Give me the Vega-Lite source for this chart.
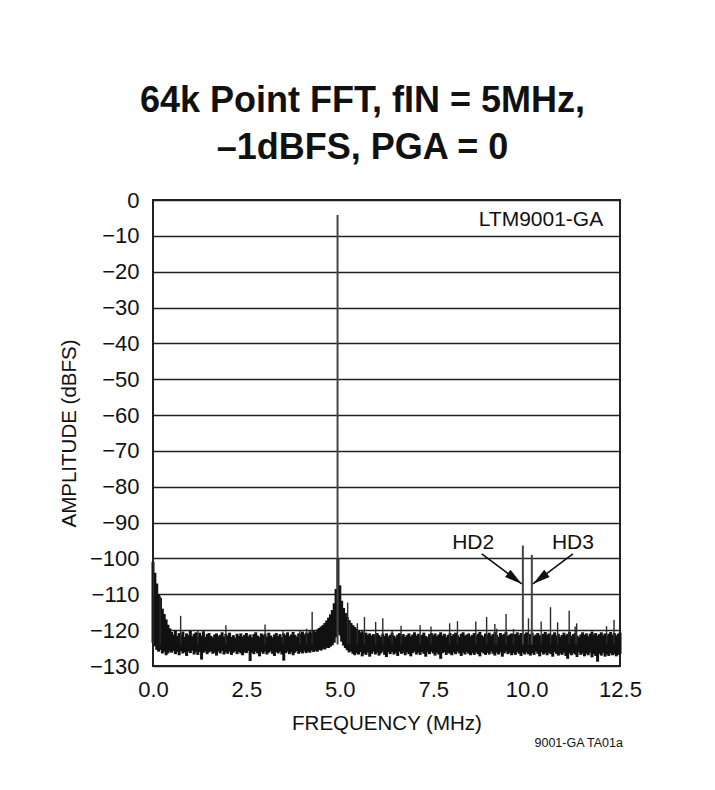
{
  "$schema": "https://vega.github.io/schema/vega-lite/v6.json",
  "width": 467,
  "height": 466,
  "autosize": {"type": "none"},
  "padding": {"left": 153, "top": 200, "right": 95, "bottom": 124},
  "background": "white",
  "config": {
    "view": {"stroke": "#222", "strokeWidth": 2},
    "font": "Liberation Sans, Arial, sans-serif"
  },
  "title": {
    "text": ["64k Point FFT, fIN = 5MHz,", "–1dBFS, PGA = 0"],
    "font": "Liberation Sans, Arial, sans-serif",
    "fontSize": 36,
    "fontWeight": "bold",
    "lineHeight": 47,
    "anchor": "middle",
    "dx": -24,
    "offset": 22,
    "color": "#111"
  },
  "datasets": {
    "band": [
      {"f":0,"hi":-101,"lo":-123.5},{"f":0.05,"hi":-104,"lo":-124.5},{"f":0.1,"hi":-107,"lo":-125.5},{"f":0.15,"hi":-110,"lo":-126},{"f":0.2,"hi":-111,"lo":-125.5},{"f":0.25,"hi":-114,"lo":-126.5},{"f":0.3,"hi":-115.5,"lo":-126},{"f":0.35,"hi":-117,"lo":-127},{"f":0.4,"hi":-118.5,"lo":-126.5},{"f":0.45,"hi":-119.5,"lo":-126},
      {"f":0.5,"hi":-120.5,"lo":-126.3},{"f":0.55,"hi":-121.2,"lo":-125.8},{"f":0.6,"hi":-120.1,"lo":-126.7},{"f":0.65,"hi":-121.6,"lo":-126.1},{"f":0.7,"hi":-120.8,"lo":-127},{"f":0.75,"hi":-121.3,"lo":-125.9},{"f":0.8,"hi":-120.4,"lo":-126.5},{"f":0.85,"hi":-121.9,"lo":-126.2},{"f":0.9,"hi":-120.9,"lo":-127.2},{"f":0.95,"hi":-121.4,"lo":-126},
      {"f":1,"hi":-120.2,"lo":-126.4},{"f":1.05,"hi":-121.7,"lo":-125.7},{"f":1.1,"hi":-121,"lo":-126.8},{"f":1.15,"hi":-120.6,"lo":-126.2},{"f":1.2,"hi":-121.8,"lo":-126.9},{"f":1.25,"hi":-120.7,"lo":-126.1},{"f":1.3,"hi":-121.5,"lo":-128.2},{"f":1.35,"hi":-120.3,"lo":-126.3},{"f":1.4,"hi":-121.9,"lo":-126},{"f":1.45,"hi":-121.1,"lo":-126.7},
      {"f":1.5,"hi":-120.8,"lo":-126.2},{"f":1.55,"hi":-121.6,"lo":-125.9},{"f":1.6,"hi":-122,"lo":-126.6},{"f":1.65,"hi":-121.2,"lo":-126.3},{"f":1.7,"hi":-120.9,"lo":-127.1},{"f":1.75,"hi":-121.7,"lo":-126},{"f":1.8,"hi":-121.3,"lo":-126.5},{"f":1.85,"hi":-120.6,"lo":-125.8},{"f":1.9,"hi":-121.8,"lo":-126.8},{"f":1.95,"hi":-121,"lo":-126.2},
      {"f":2,"hi":-121.5,"lo":-126.6},{"f":2.05,"hi":-120.7,"lo":-126},{"f":2.1,"hi":-121.9,"lo":-126.9},{"f":2.15,"hi":-121.4,"lo":-126.3},{"f":2.2,"hi":-122.1,"lo":-125.9},{"f":2.25,"hi":-121,"lo":-126.7},{"f":2.3,"hi":-121.6,"lo":-126.1},{"f":2.35,"hi":-120.9,"lo":-126.5},{"f":2.4,"hi":-121.8,"lo":-127},{"f":2.45,"hi":-121.3,"lo":-126.2},
      {"f":2.5,"hi":-120.8,"lo":-126.4},{"f":2.55,"hi":-121.7,"lo":-125.8},{"f":2.6,"hi":-121.2,"lo":-128.6},{"f":2.65,"hi":-122,"lo":-126.3},{"f":2.7,"hi":-121.1,"lo":-126.7},{"f":2.75,"hi":-120.6,"lo":-126},{"f":2.8,"hi":-121.5,"lo":-126.5},{"f":2.85,"hi":-121.9,"lo":-127.3},{"f":2.9,"hi":-120.9,"lo":-126.1},{"f":2.95,"hi":-121.4,"lo":-126.6},
      {"f":3,"hi":-121,"lo":-126},{"f":3.05,"hi":-121.8,"lo":-126.8},{"f":3.1,"hi":-120.7,"lo":-126.3},{"f":3.15,"hi":-121.5,"lo":-125.9},{"f":3.2,"hi":-122,"lo":-126.6},{"f":3.25,"hi":-121.2,"lo":-127.2},{"f":3.3,"hi":-120.8,"lo":-126.1},{"f":3.35,"hi":-121.6,"lo":-126.5},{"f":3.4,"hi":-121.1,"lo":-126},{"f":3.45,"hi":-121.9,"lo":-126.8},
      {"f":3.5,"hi":-120.9,"lo":-128.5},{"f":3.55,"hi":-121.4,"lo":-126.4},{"f":3.6,"hi":-120.6,"lo":-126},{"f":3.65,"hi":-121.7,"lo":-126.7},{"f":3.7,"hi":-121.2,"lo":-126.2},{"f":3.75,"hi":-120.5,"lo":-127},{"f":3.8,"hi":-121.3,"lo":-126.3},{"f":3.85,"hi":-121.8,"lo":-125.8},{"f":3.9,"hi":-120.9,"lo":-126.6},{"f":3.95,"hi":-121,"lo":-126.1},
      {"f":4,"hi":-120.4,"lo":-126.5},{"f":4.05,"hi":-121.2,"lo":-125.9},{"f":4.1,"hi":-120.7,"lo":-126.4},{"f":4.15,"hi":-120.9,"lo":-126},{"f":4.2,"hi":-120.3,"lo":-126.3},{"f":4.25,"hi":-120.8,"lo":-125.7},{"f":4.3,"hi":-120.1,"lo":-126.1},{"f":4.35,"hi":-120.5,"lo":-125.8},{"f":4.4,"hi":-119.8,"lo":-126},{"f":4.45,"hi":-119.4,"lo":-125.5},
      {"f":4.5,"hi":-119,"lo":-125.7},{"f":4.55,"hi":-118.6,"lo":-125.2},{"f":4.6,"hi":-118,"lo":-125.4},{"f":4.65,"hi":-117.3,"lo":-124.9},{"f":4.7,"hi":-116.5,"lo":-125},{"f":4.75,"hi":-115.6,"lo":-124.6},{"f":4.8,"hi":-114.4,"lo":-124.2},{"f":4.85,"hi":-112.5,"lo":-123.5},{"f":4.9,"hi":-108.5,"lo":-122},{"f":4.95,"hi":-100,"lo":-120.5},
      {"f":5,"hi":-107.5,"lo":-121.5},{"f":5.05,"hi":-111.8,"lo":-123.2},{"f":5.1,"hi":-113.8,"lo":-124.3},{"f":5.15,"hi":-115.2,"lo":-125},{"f":5.2,"hi":-116.3,"lo":-125.6},{"f":5.25,"hi":-117.2,"lo":-126.2},{"f":5.3,"hi":-118,"lo":-125.9},{"f":5.35,"hi":-118.6,"lo":-126.6},{"f":5.4,"hi":-119.1,"lo":-127},{"f":5.45,"hi":-119.6,"lo":-126.4},
      {"f":5.5,"hi":-120,"lo":-126.8},{"f":5.55,"hi":-120.6,"lo":-126.1},{"f":5.6,"hi":-120.3,"lo":-127.3},{"f":5.65,"hi":-121,"lo":-126.5},{"f":5.7,"hi":-120.7,"lo":-126.9},{"f":5.75,"hi":-121.3,"lo":-126.2},{"f":5.8,"hi":-120.9,"lo":-127.4},{"f":5.85,"hi":-121.5,"lo":-126.6},{"f":5.9,"hi":-121.1,"lo":-126},{"f":5.95,"hi":-121.7,"lo":-126.8},
      {"f":6,"hi":-120.8,"lo":-126.3},{"f":6.05,"hi":-121.4,"lo":-127.1},{"f":6.1,"hi":-121.9,"lo":-126.5},{"f":6.15,"hi":-121,"lo":-126},{"f":6.2,"hi":-121.6,"lo":-126.9},{"f":6.25,"hi":-120.9,"lo":-127.5},{"f":6.3,"hi":-121.8,"lo":-126.2},{"f":6.35,"hi":-121.3,"lo":-126.7},{"f":6.4,"hi":-120.7,"lo":-126.1},{"f":6.45,"hi":-121.5,"lo":-126.8},
      {"f":6.5,"hi":-122,"lo":-126.4},{"f":6.55,"hi":-121.2,"lo":-127.2},{"f":6.6,"hi":-120.8,"lo":-126},{"f":6.65,"hi":-121.6,"lo":-126.6},{"f":6.7,"hi":-121.1,"lo":-126.3},{"f":6.75,"hi":-121.9,"lo":-127},{"f":6.8,"hi":-121.4,"lo":-126.2},{"f":6.85,"hi":-120.9,"lo":-126.7},{"f":6.9,"hi":-121.7,"lo":-127.3},{"f":6.95,"hi":-121.2,"lo":-126.4},
      {"f":7,"hi":-120.6,"lo":-126},{"f":7.05,"hi":-121.5,"lo":-126.8},{"f":7.1,"hi":-121,"lo":-126.3},{"f":7.15,"hi":-121.8,"lo":-126.9},{"f":7.2,"hi":-121.3,"lo":-126.1},{"f":7.25,"hi":-120.7,"lo":-126.6},{"f":7.3,"hi":-121.6,"lo":-127.4},{"f":7.35,"hi":-122,"lo":-126.2},{"f":7.4,"hi":-121.1,"lo":-126.7},{"f":7.45,"hi":-120.8,"lo":-126},
      {"f":7.5,"hi":-121.4,"lo":-126.5},{"f":7.55,"hi":-120.9,"lo":-127.1},{"f":7.6,"hi":-121.7,"lo":-126.3},{"f":7.65,"hi":-121.2,"lo":-126.8},{"f":7.7,"hi":-120.6,"lo":-128},{"f":7.75,"hi":-121.5,"lo":-126.4},{"f":7.8,"hi":-121,"lo":-126.1},{"f":7.85,"hi":-121.9,"lo":-126.9},{"f":7.9,"hi":-121.3,"lo":-126.3},{"f":7.95,"hi":-120.8,"lo":-126.6},
      {"f":8,"hi":-121.6,"lo":-127},{"f":8.05,"hi":-121.1,"lo":-126.2},{"f":8.1,"hi":-120.7,"lo":-126.7},{"f":8.15,"hi":-121.4,"lo":-126},{"f":8.2,"hi":-121.9,"lo":-126.5},{"f":8.25,"hi":-121,"lo":-127.2},{"f":8.3,"hi":-120.6,"lo":-126.3},{"f":8.35,"hi":-121.5,"lo":-126.8},{"f":8.4,"hi":-121.2,"lo":-126.1},{"f":8.45,"hi":-120.9,"lo":-126.6},
      {"f":8.5,"hi":-121.7,"lo":-127},{"f":8.55,"hi":-121.3,"lo":-126.4},{"f":8.6,"hi":-120.8,"lo":-126.9},{"f":8.65,"hi":-121.6,"lo":-126.2},{"f":8.7,"hi":-121,"lo":-126.7},{"f":8.75,"hi":-120.5,"lo":-127.3},{"f":8.8,"hi":-121.4,"lo":-126.1},{"f":8.85,"hi":-121.8,"lo":-126.5},{"f":8.9,"hi":-120.9,"lo":-126.9},{"f":8.95,"hi":-121.2,"lo":-126.3},
      {"f":9,"hi":-120.7,"lo":-126.8},{"f":9.05,"hi":-121.5,"lo":-126},{"f":9.1,"hi":-121.1,"lo":-126.6},{"f":9.15,"hi":-120.6,"lo":-127.1},{"f":9.2,"hi":-121.3,"lo":-126.3},{"f":9.25,"hi":-121.9,"lo":-126.8},{"f":9.3,"hi":-120.8,"lo":-126.2},{"f":9.35,"hi":-121.4,"lo":-127.4},{"f":9.4,"hi":-121,"lo":-126.5},{"f":9.45,"hi":-120.5,"lo":-126},
      {"f":9.5,"hi":-121.6,"lo":-126.7},{"f":9.55,"hi":-121.2,"lo":-126.3},{"f":9.6,"hi":-120.9,"lo":-127},{"f":9.65,"hi":-121.7,"lo":-126.4},{"f":9.7,"hi":-121.1,"lo":-126.9},{"f":9.75,"hi":-120.6,"lo":-126.1},{"f":9.8,"hi":-121.4,"lo":-126.6},{"f":9.85,"hi":-120.8,"lo":-127.2},{"f":9.9,"hi":-121.3,"lo":-126.3},{"f":9.95,"hi":-121,"lo":-126.8},
      {"f":10,"hi":-120.6,"lo":-126.2},{"f":10.05,"hi":-121.5,"lo":-126.7},{"f":10.1,"hi":-121.1,"lo":-127.1},{"f":10.15,"hi":-120.7,"lo":-126.4},{"f":10.2,"hi":-121.6,"lo":-126.9},{"f":10.25,"hi":-121.2,"lo":-126},{"f":10.3,"hi":-120.8,"lo":-126.6},{"f":10.35,"hi":-121.4,"lo":-127.3},{"f":10.4,"hi":-121.9,"lo":-126.2},{"f":10.45,"hi":-121,"lo":-126.8},
      {"f":10.5,"hi":-120.5,"lo":-126.4},{"f":10.55,"hi":-121.3,"lo":-127},{"f":10.6,"hi":-120.9,"lo":-126.3},{"f":10.65,"hi":-121.7,"lo":-126.7},{"f":10.7,"hi":-121.2,"lo":-127.4},{"f":10.75,"hi":-120.6,"lo":-126.1},{"f":10.8,"hi":-121.5,"lo":-126.6},{"f":10.85,"hi":-121,"lo":-127.1},{"f":10.9,"hi":-121.8,"lo":-126.5},{"f":10.95,"hi":-121.3,"lo":-126.9},
      {"f":11,"hi":-120.7,"lo":-126.3},{"f":11.05,"hi":-121.4,"lo":-127.2},{"f":11.1,"hi":-121,"lo":-128},{"f":11.15,"hi":-120.5,"lo":-126.5},{"f":11.2,"hi":-121.6,"lo":-127},{"f":11.25,"hi":-121.1,"lo":-126.4},{"f":11.3,"hi":-120.8,"lo":-126.8},{"f":11.35,"hi":-121.5,"lo":-127.5},{"f":11.4,"hi":-121.9,"lo":-126.2},{"f":11.45,"hi":-121.2,"lo":-126.9},
      {"f":11.5,"hi":-120.6,"lo":-126.5},{"f":11.55,"hi":-121.3,"lo":-127.3},{"f":11.6,"hi":-120.9,"lo":-126.6},{"f":11.65,"hi":-121.7,"lo":-127},{"f":11.7,"hi":-121,"lo":-126.3},{"f":11.75,"hi":-120.4,"lo":-127.6},{"f":11.8,"hi":-121.2,"lo":-126.7},{"f":11.85,"hi":-120.8,"lo":-127.2},{"f":11.9,"hi":-121.5,"lo":-128.8},{"f":11.95,"hi":-121.1,"lo":-126.6},
      {"f":12,"hi":-120.6,"lo":-127.1},{"f":12.05,"hi":-121.4,"lo":-126.4},{"f":12.1,"hi":-120.9,"lo":-127.4},{"f":12.15,"hi":-121.6,"lo":-126.8},{"f":12.2,"hi":-121,"lo":-127.2},{"f":12.25,"hi":-120.5,"lo":-126.5},{"f":12.3,"hi":-121.3,"lo":-127},{"f":12.35,"hi":-120.8,"lo":-126.7},{"f":12.4,"hi":-121.5,"lo":-127.3},{"f":12.45,"hi":-121,"lo":-126.9},{"f":12.5,"hi":-120.7,"lo":-126.6}
    ],
    "spurs": [
      {"f":0.01,"top":-100.4},{"f":0.19,"top":-110.5},{"f":0.74,"top":-116},{"f":1.2,"top":-120},{"f":1.95,"top":-118.6},{"f":3.0,"top":-118.4},{"f":3.48,"top":-120.3},{"f":3.93,"top":-120},{"f":4.11,"top":-119.6},{"f":4.26,"top":-114.9},
      {"f":5.21,"top":-112.3},{"f":5.27,"top":-117.5},{"f":5.47,"top":-118.1},{"f":5.66,"top":-116.3},{"f":5.96,"top":-117.7},{"f":6.15,"top":-116.7},{"f":6.4,"top":-120.2},{"f":6.64,"top":-118.8},{"f":7.15,"top":-118.6},{"f":7.44,"top":-119},
      {"f":7.94,"top":-118.1},{"f":8.15,"top":-117.5},{"f":8.64,"top":-117.6},{"f":8.93,"top":-116.3},{"f":9.15,"top":-118.3},{"f":9.2,"top":-119.6},{"f":9.45,"top":-115.5},{"f":9.65,"top":-119.7},{"f":10.05,"top":-116.7},{"f":10.39,"top":-117.6},
      {"f":10.64,"top":-113.6},{"f":10.83,"top":-117.8},{"f":11.14,"top":-114.6},{"f":11.3,"top":-119},{"f":11.34,"top":-118.1},{"f":12.14,"top":-118.9},{"f":12.34,"top":-117.1}
    ],
    "tones": [
      {"name":"fundamental","f":4.94,"top":-4.2},
      {"name":"HD2","f":9.9,"top":-96.4},
      {"name":"HD3","f":10.14,"top":-99}
    ],
    "arrows": [
      {"label":"HD2","tx":8.57,"ty":-95.7,"x1":8.8,"y1":-98.7,"x2":9.87,"y2":-107.1},
      {"label":"HD3","tx":11.24,"ty":-95.7,"x1":11.24,"y1":-98.7,"x2":10.17,"y2":-107.1}
    ],
    "notes": [
      {"text":"LTM9001-GA","x":12.05,"y":-5.6}
    ],
    "footer": [
      {"text":"9001-GA TA01a","x":12.58,"y":-151.5}
    ]
  },
  "layer": [
    {
      "data": {"name": "band"},
      "mark": {"type": "rule", "color": "#111", "strokeWidth": 3},
      "encoding": {
        "x": {"field": "f", "type": "quantitative", "scale": {"domain": [0, 12.5], "nice": false, "zero": false},
          "axis": {"values": [0, 2.5, 5, 7.5, 10, 12.5], "tickCount": 20, "format": ".1f", "grid": false, "domain": false, "ticks": false,
            "labelFlush": false, "labelOverlap": false, "labelPadding": 13, "labelFontSize": 22, "labelColor": "#111",
            "labelFont": "Liberation Sans, Arial, sans-serif",
            "title": "FREQUENCY (MHz)", "titleFontSize": 20.5, "titleFontWeight": "normal", "titleColor": "#111", "titlePadding": 13,
            "titleFont": "Liberation Sans, Arial, sans-serif"}},
        "y": {"field": "hi", "type": "quantitative", "scale": {"domain": [-130, 0], "nice": false, "zero": false},
          "axis": {"values": [-130, -120, -110, -100, -90, -80, -70, -60, -50, -40, -30, -20, -10, 0], "tickCount": 20,
            "grid": true, "gridColor": "#222", "gridWidth": 1.6, "domain": false, "ticks": false,
            "labelFlush": false, "labelOverlap": false, "labelPadding": 14, "labelFontSize": 22, "labelColor": "#111",
            "labelFont": "Liberation Sans, Arial, sans-serif",
            "labelExpr": "datum.value < 0 ? '\u2212' + abs(datum.value) : '' + datum.value",
            "title": "AMPLITUDE (dBFS)", "titleFontSize": 20.5, "titleFontWeight": "normal", "titleColor": "#111", "titlePadding": 10,
            "titleFont": "Liberation Sans, Arial, sans-serif"}},
        "y2": {"field": "lo"}
      }
    },
    {
      "data": {"name": "spurs"},
      "mark": {"type": "rule", "color": "#2a2a2a", "strokeWidth": 1.4},
      "encoding": {
        "x": {"field": "f", "type": "quantitative"},
        "y": {"field": "top", "type": "quantitative"},
        "y2": {"datum": -124}
      }
    },
    {
      "data": {"name": "tones"},
      "mark": {"type": "rule", "color": "#444", "strokeWidth": 2},
      "encoding": {
        "x": {"field": "f", "type": "quantitative"},
        "y": {"field": "top", "type": "quantitative"},
        "y2": {"datum": -124}
      }
    },
    {
      "data": {"name": "arrows"},
      "mark": {"type": "rule", "color": "#111", "strokeWidth": 1.6},
      "encoding": {
        "x": {"field": "x1", "type": "quantitative"},
        "y": {"field": "y1", "type": "quantitative"},
        "x2": {"field": "x2"},
        "y2": {"field": "y2"}
      }
    },
    {
      "data": {"name": "arrows"},
      "transform": [{"filter": "datum.label == 'HD2'"}],
      "mark": {"type": "point", "shape": "M0,0L-0.9,3.5L0.9,3.5Z", "size": 100, "filled": true, "color": "#111", "opacity": 1, "angle": 127},
      "encoding": {
        "x": {"field": "x2", "type": "quantitative"},
        "y": {"field": "y2", "type": "quantitative"}
      }
    },
    {
      "data": {"name": "arrows"},
      "transform": [{"filter": "datum.label == 'HD3'"}],
      "mark": {"type": "point", "shape": "M0,0L-0.9,3.5L0.9,3.5Z", "size": 100, "filled": true, "color": "#111", "opacity": 1, "angle": 233},
      "encoding": {
        "x": {"field": "x2", "type": "quantitative"},
        "y": {"field": "y2", "type": "quantitative"}
      }
    },
    {
      "data": {"name": "arrows"},
      "mark": {"type": "text", "fontSize": 21, "color": "#111", "align": "center", "baseline": "middle",
        "font": "Liberation Sans, Arial, sans-serif"},
      "encoding": {
        "x": {"field": "tx", "type": "quantitative"},
        "y": {"field": "ty", "type": "quantitative"},
        "text": {"field": "label"}
      }
    },
    {
      "data": {"name": "notes"},
      "mark": {"type": "text", "fontSize": 21, "color": "#111", "align": "right", "baseline": "middle",
        "font": "Liberation Sans, Arial, sans-serif"},
      "encoding": {
        "x": {"field": "x", "type": "quantitative"},
        "y": {"field": "y", "type": "quantitative"},
        "text": {"field": "text"}
      }
    },
    {
      "data": {"name": "footer"},
      "mark": {"type": "text", "fontSize": 12.5, "color": "#111", "align": "right", "baseline": "middle",
        "font": "Liberation Sans, Arial, sans-serif"},
      "encoding": {
        "x": {"field": "x", "type": "quantitative"},
        "y": {"field": "y", "type": "quantitative"},
        "text": {"field": "text"}
      }
    }
  ]
}
